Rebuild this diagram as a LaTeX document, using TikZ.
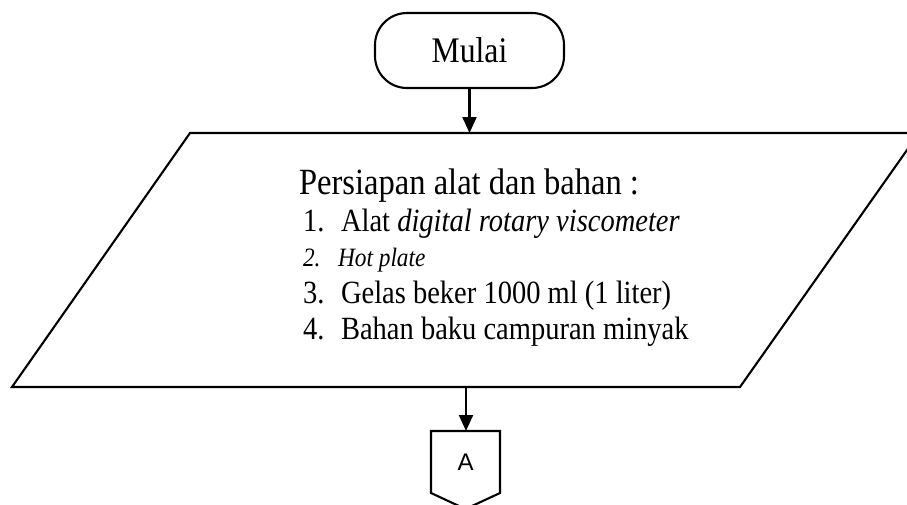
\documentclass[tikz,border=0pt]{standalone}
\usepackage{fontspec}
\setmainfont[FakeStretch=0.88]{Liberation Serif}
\newfontfamily\arialfont{Liberation Sans}
\usetikzlibrary{arrows.meta}
\begin{document}
\begin{tikzpicture}[x=1pt,y=-1pt,
  line width=2.1pt,
  flow/.style={-{Triangle[length=16pt,width=14pt]}},
  terminal/.style={draw,rounded corners=32pt,minimum width=189pt,minimum height=75pt,inner sep=0pt},
  titletext/.style={font=\fontsize{37}{40}\selectfont,anchor=base west,inner sep=0pt},
  bodytext/.style={font=\fontsize{32.4}{36}\selectfont,anchor=base west,inner sep=0pt},
  smalltext/.style={font=\fontsize{26.5}{30}\selectfont\itshape,anchor=base west,inner sep=0pt}]
\useasboundingbox (0,0) rectangle (907,504);
\fill[white] (0,0) rectangle (907,504);

% start terminal
\node[terminal,font=\fontsize{36}{40}\selectfont] (mulai) at (469.5,50.5) {Mulai};

% input/output parallelogram
\coordinate (ptop) at (469.5,133);
\coordinate (pbot) at (466,387);
\draw (190,133) -- (919,133) -- (740,387) -- (12,387) -- cycle;

% list of tools and materials
\node[titletext] (title) at (298,194) {Persiapan alat dan bahan :};
\node[bodytext] (n1) at (302,231) {1.};
\node[bodytext] (t1) at (340,231) {Alat \textit{digital rotary viscometer}};
\node[smalltext] (n2) at (302,266) {2.};
\node[smalltext] (t2) at (337,266) {Hot plate};
\node[bodytext] (n3) at (302,303) {3.};
\node[bodytext] (t3) at (340,303) {Gelas beker 1000 ml (1 liter)};
\node[bodytext] (n4) at (302,339) {4.};
\node[bodytext] (t4) at (340,339) {Bahan baku campuran minyak};

% off-page connector
\coordinate (atop) at (466,431);
\draw (431,431) -- (500,431) -- (500,493) -- (465.5,509) -- (431,493) -- cycle;
\node[font=\arialfont\fontsize{24}{26}\selectfont,inner sep=0pt] (A) at (465.5,462) {A};

% connectors
\draw[flow] (mulai.south) -- (ptop);
\draw[flow] (pbot) -- (atop);
\end{tikzpicture}
\end{document}
